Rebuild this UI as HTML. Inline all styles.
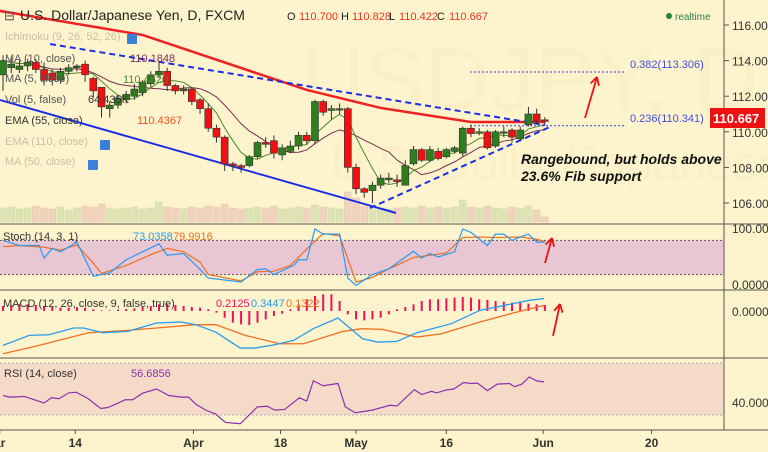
<!DOCTYPE html>
<html><head><meta charset="utf-8"><style>
body{margin:0;background:#fdf3cc;}
svg{display:block;font-family:"Liberation Sans",sans-serif;}
</style></head><body>
<svg id="c" width="768" height="452"></svg>
<script>
const candles=[[113.2,114.3,112.3,114.0],[113.6,114.2,113.3,113.8],[113.5,114,113.3,113.7],[113.7,114.1,113.4,113.9],[113.9,114.1,113.3,113.5],[113.5,113.9,112.6,112.9],[113.3,113.5,112.6,112.9],[112.9,113.6,112.7,113.4],[113.4,113.8,113.2,113.6],[113.6,113.8,113.4,113.7],[113.8,114.0,112.8,113.2],[113.0,113.1,111.9,112.3],[112.5,112.5,110.8,111.4],[111.3,111.7,110.8,111.5],[111.5,112.0,111.3,111.9],[111.8,112.3,111.6,112.1],[112.0,112.7,111.8,112.4],[112.2,112.9,112.0,112.8],[112.7,113.4,112.5,113.2],[113.2,113.9,113.0,113.4],[113.4,113.6,112.3,112.6],[112.6,112.7,112.1,112.3],[112.3,112.6,112.1,112.4],[112.4,112.5,111.5,111.7],[111.8,111.9,111.0,111.3],[111.3,111.6,110.0,110.2],[110.2,110.4,109.4,109.7],[109.7,109.8,107.8,108.2],[108.2,108.3,107.8,108.1],[108.1,108.2,107.7,108.0],[108.1,108.7,108.0,108.6],[108.6,109.5,108.5,109.4],[109.4,109.7,109.1,109.3],[109.5,109.8,108.5,108.8],[108.7,109.3,108.4,109.1],[108.9,109.5,108.8,109.2],[109.2,110.0,109.0,109.8],[109.8,110.0,109.3,109.5],[109.5,111.8,109.3,111.7],[111.7,111.8,110.9,111.1],[111.2,111.5,110.7,111.3],[111.3,111.6,111.0,111.3],[111.3,111.4,107.7,108.0],[108.0,108.2,106.5,106.8],[106.8,106.9,106.3,106.6],[106.7,107.2,106.0,107.0],[107.0,107.6,106.8,107.4],[107.3,107.7,107.1,107.4],[107.3,107.6,106.9,107.2],[107.0,108.4,107.0,108.1],[108.2,109.2,108.1,109.0],[109.0,109.1,108.3,108.4],[108.4,109.2,108.3,109.0],[108.9,109.1,108.4,108.5],[108.6,109.1,108.5,109.0],[108.9,109.2,108.8,109.1],[108.8,110.3,108.6,110.2],[110.2,110.4,109.7,109.9],[110.0,110.2,109.8,110.0],[110.0,110.1,109.0,109.1],[109.2,110.1,109.1,110.0],[110.0,110.3,109.7,110.0],[110.1,110.2,109.4,109.7],[109.6,110.3,109.5,110.1],[110.4,111.4,110.3,111.0],[111.0,111.3,110.4,110.6],[110.67,110.83,110.42,110.667]];
const volume=[14,15,13,14,16,14,13,15,12,14,16,15,18,14,13,14,15,13,14,20,15,14,13,15,14,16,15,18,14,13,14,15,14,16,13,14,15,14,17,15,14,13,30,24,16,15,14,13,14,15,14,16,14,15,14,15,22,15,14,16,14,13,15,14,16,12,5];
const emaIdx=[-1,17,37,46,57,66];
const emaVal=[116.84,115.44,112.35,111.34,110.55,110.55];
const stochKIdx=[0,2,4.4,5,6,7,9,11,13,15,17,19,20,22,24,25,29,31,32,33,35.5,36,37,38,39,41,42,43,45,47,50,51,52,53,55,56,57,59,60,61,62,63,64,65,66];
const stochK=[80,71,71,49,66,60,77,17,23,46,60,74,54,57,29,14,7,29,30,20,37,46,46,100,91,91,14,1,20,30,61,49,57,51,60,100,94,71,91,91,80,86,91,77,77];
const stochDIdx=[0,2,5,7,9,11,12,15,18,20,22,24,25,29,31,33,35,37,39,41,43,45,47,50,52,54,56,58,60,63,65,66];
const stochD=[69,71,68,63,72,40,22,36,55,66,60,42,20,9,25,26,36,65,92,88,7,15,30,50,54,58,85,86,85,86,82,78];
const macdIdx=[0,3.2,5.6,8.6,9.8,12.2,15.2,18.7,21.7,23.5,25.9,28.9,30.7,33.1,35.4,37.8,40.8,43.8,45.6,48,50.4,54.6,58.1,61.1,64.1,65.9];
const macdVal=[-1.03,-0.73,-0.71,-0.51,-0.51,-0.65,-0.61,-0.36,-0.33,-0.41,-0.63,-1.11,-1.11,-1.01,-0.88,-0.53,-0.21,-0.83,-0.93,-0.91,-0.65,-0.38,0.02,0.17,0.32,0.37];
const sigIdx=[0,4.4,10.4,15.2,18.7,23.5,25.9,29.5,33.7,36.6,41.4,43.8,46.2,50.4,53.4,58.1,62.3,65.9];
const sigVal=[-1.28,-1.03,-0.65,-0.58,-0.51,-0.41,-0.41,-0.73,-0.98,-0.98,-0.61,-0.53,-0.55,-0.78,-0.68,-0.33,-0.05,0.17];
const hist=[0.15,0.18,0.2,0.2,0.18,0.15,0.12,0.1,0.1,0.12,0.1,0.05,0.02,0.02,0.04,0.06,0.08,0.12,0.15,0.2,0.2,0.18,0.15,0.12,0.1,0.05,-0.05,-0.2,-0.35,-0.4,-0.42,-0.35,-0.25,-0.15,-0.08,0.05,0.2,0.35,0.45,0.5,0.5,0.3,-0.1,-0.25,-0.28,-0.25,-0.2,-0.1,0.05,0.12,0.2,0.3,0.35,0.35,0.38,0.4,0.42,0.4,0.35,0.33,0.3,0.28,0.25,0.25,0.22,0.2,0.18];
const rsiIdx=[0,0.8,2.6,5,5.9,6.8,8,8.9,10.4,11.9,12.8,14.9,15.8,17,18.7,20.2,21.7,22.6,23.5,24.7,25.9,27.1,28.9,31,32.2,33.1,34.3,36.1,37,37.8,39,40.8,41.7,42.9,45,47.1,48,50.1,51,52.2,52.8,54,54.9,56.1,57,57.8,59,60.2,61.7,62.3,63.2,64.1,65,65.9];
const rsiZ=[505,510,508,528,512,515,497,495,515,545,542,518,518,498,485,505,510,510,532,550,562,588,592,540,538,550,548,512,522,460,475,468,540,558,550,535,537,487,502,492,497,488,485,465,468,467,490,470,468,478,470,448,460,463];
const rsiVal=rsiZ.map(z=>+(40+(525-z)/4).toFixed(2));
const priceTicks=[116,114,112,110,108,106];
const xLabels=["ar","14","Apr","18","May","16","Jun","20"];
const xLabelIdx=[-0.4,8.8,23.2,33.8,43,54,65.8,79];

const NS="http://www.w3.org/2000/svg",svg=document.getElementById('c');
function el(t,a,p){const e=document.createElementNS(NS,t);for(const k in a)e.setAttribute(k,a[k]);(p||svg).appendChild(e);return e;}
const X=i=>3+i*8.21;
const PY=p=>25+(116-p)*17.8;
const SY=v=>286-v*0.57;
const MY=v=>311+(-v)*33.4;
const RY=v=>402-(v-40)*1.3;
function poly(xs,ys,col,w,name,dash){const e=el('polyline',{points:xs.map((x,i)=>x+','+ys[i]).join(' '),fill:'none',stroke:col,'stroke-width':w});if(dash)e.setAttribute('stroke-dasharray',dash);return e;}
function txt(x,y,s,a,name){const e=el('text',Object.assign({x:x,y:y},a));e.textContent=s;return e;}

let r=el('rect',{x:0,y:SY(80),width:724,height:SY(20)-SY(80),fill:'#e9c6d3'});
r=el('rect',{x:0,y:RY(70),width:724,height:RY(30)-RY(70),fill:'#f6dac8'});
[80,20].forEach(v=>el('line',{x1:0,x2:724,y1:SY(v),y2:SY(v),stroke:'#555','stroke-dasharray':'2,2'}));
[70,30].forEach(v=>el('line',{x1:0,x2:724,y1:RY(v),y2:RY(v),stroke:'#aab','stroke-dasharray':'2,2'}));
txt(300,110,'USDJPY, D',{'font-size':90,fill:'#faefc7'},'watermark-symbol');
txt(330,180,'U.S. Dollar/Japanese Yen',{'font-size':48,fill:'#faefc7'},'watermark-name');

volume.forEach((v,i)=>{const c=candles[i];const b=el('rect',{x:X(i)-3.5,y:222-v,width:7,height:v,fill:c[3]>=c[0]?'#dde3b4':'#efd3bd',stroke:c[3]>=c[0]?'#cfd8a6':'#e8c6ac','stroke-width':0.5});});

poly(emaIdx.map(X),emaVal.map(PY),'#ee2222',2.5,'ema-55-line');
const closes=candles.map(c=>c[3]);
function sma(n){return closes.map((_,i)=>{const s=closes.slice(Math.max(0,i-n+1),i+1);return s.reduce((a,b)=>a+b,0)/s.length;});}
poly(closes.map((_,i)=>X(i)),sma(10).map(PY),'#7a3050',1,'ma-10-line');
poly(closes.map((_,i)=>X(i)),sma(5).map(PY),'#4a8a2a',1,'ma-5-line');
let l=el('line',{x1:50,y1:44,x2:545,y2:125,stroke:'#1a2ee8','stroke-width':2,'stroke-dasharray':'6,4'});
l=el('line',{x1:0,y1:100,x2:396,y2:213,stroke:'#1a2ee8','stroke-width':2});
l=el('line',{x1:370,y1:208,x2:552,y2:126,stroke:'#1a2ee8','stroke-width':2,'stroke-dasharray':'6,4'});
l=el('line',{x1:470,y1:72,x2:625,y2:72,stroke:'#3040e0','stroke-width':1,'stroke-dasharray':'2,2'});
l=el('line',{x1:470,y1:PY(110.341),x2:625,y2:PY(110.341),stroke:'#3040e0','stroke-width':1,'stroke-dasharray':'2,2'});
txt(630,68,'0.382(113.306)',{'font-size':11,fill:'#4050e0'},'fib-382-label');
txt(630,122,'0.236(110.341)',{'font-size':11,fill:'#4050e0'},'fib-236-label');

candles.forEach((c,i)=>{const up=c[3]>=c[0];const x=X(i);
const w=el('line',{x1:x,x2:x,y1:PY(c[1]),y2:PY(c[2]),stroke:'#333','stroke-width':1});
const t=Math.min(PY(c[0]),PY(c[3]));const h=Math.max(1.5,Math.abs(PY(c[0])-PY(c[3])));
const b=el('rect',{x:x-3.5,y:t,width:7,height:h,fill:up?'#2e7d1e':'#e11',stroke:'#333','stroke-width':0.6});});

txt(521,164,'Rangebound, but holds above',{'font-size':14,'font-weight':'bold','font-style':'italic',fill:'#111'},'annotation-line1');
txt(521,181,'23.6% Fib support',{'font-size':14,'font-weight':'bold','font-style':'italic',fill:'#111'},'annotation-line2');
function arrow(x1,y1,x2,y2,name){const g=el('g',{stroke:'#ee1111','stroke-width':1.8,fill:'none'});
el('line',{x1,y1,x2,y2},g);const a=Math.atan2(y2-y1,x2-x1);[0.5,-0.5].forEach(d=>el('line',{x1:x2,y1:y2,x2:x2-9*Math.cos(a+d),y2:y2-9*Math.sin(a+d)},g));}
arrow(585,118,597,77,'target-arrow');arrow(545,263,552,238,'stoch-arrow');arrow(553,336,560,304,'macd-arrow');

poly(stochDIdx.map(X),stochD.map(SY),'#f07020',1.2,'stoch-d-line');
poly(stochKIdx.map(X),stochK.map(SY),'#2a9af0',1.2,'stoch-k-line');
hist.forEach((v,i)=>{const b=el('line',{x1:X(i),x2:X(i),y1:MY(0),y2:MY(v),stroke:'#ee1060','stroke-width':2});});
poly(sigIdx.map(X),sigVal.map(MY),'#f07020',1.3,'macd-signal-line');
poly(macdIdx.map(X),macdVal.map(MY),'#2a9af0',1.3,'macd-line');
poly(rsiIdx.map(X),rsiVal.map(RY),'#8a30b0',1.2,'rsi-line');

[224,290,358,430].forEach(y=>el('line',{x1:0,x2:768,y1:y,y2:y,stroke:'#555','stroke-width':1}));
el('line',{x1:724,x2:724,y1:0,y2:430,stroke:'#555'});
priceTicks.forEach(p=>{el('line',{x1:724,x2:729,y1:PY(p),y2:PY(p),stroke:'#555'});txt(732,PY(p)+5,p.toFixed(3),{'font-size':12,fill:'#333'},'price-tick');});
r=el('rect',{x:710,y:108,width:55,height:20,fill:'#ee1111'});
txt(713,123,'110.667',{'font-size':13,'font-weight':'bold',fill:'#fff'},'last-price-value');
txt(732,233,'100.0000',{'font-size':12,fill:'#333'},'stoch-tick-100');
txt(732,289,'0.0000',{'font-size':12,fill:'#333'},'stoch-tick-0');
txt(732,316,'0.0000',{'font-size':12,fill:'#333'},'macd-tick-0');
txt(732,407,'40.0000',{'font-size':12,fill:'#333'},'rsi-tick-40');
xLabels.forEach((s,i)=>{const x=X(xLabelIdx[i]);el('line',{x1:x,x2:x,y1:430,y2:434,stroke:'#555'});txt(x,447,s,{'font-size':12,'font-weight':'bold',fill:'#333','text-anchor':'middle'},'x-tick-label');});

txt(4,20,'⊟',{'font-size':13,fill:'#555'},'collapse-icon');
txt(20,20,'U.S. Dollar/Japanese Yen, D, FXCM',{'font-size':14,fill:'#222'},'chart-title');
txt(287,20,'O',{'font-size':11,fill:'#222'},'open-label');txt(299,20,'110.700',{'font-size':11,fill:'#ee3322'},'open-value');
txt(341,20,'H',{'font-size':11,fill:'#222'},'high-label');txt(352,20,'110.828',{'font-size':11,fill:'#ee3322'},'high-value');
txt(389,20,'L',{'font-size':11,fill:'#222'},'low-label');txt(399,20,'110.422',{'font-size':11,fill:'#ee3322'},'low-value');
txt(437,20,'C',{'font-size':11,fill:'#222'},'close-label');txt(449,20,'110.667',{'font-size':11,fill:'#ee3322'},'close-value');
el('circle',{cx:669,cy:16,r:3,fill:'#2e7d4e'});txt(675,20,'realtime',{'font-size':10,fill:'#2e7d4e'},'realtime-status');
const leg=[['Ichimoku (9, 26, 52, 26)',40,'#c8c0a8'],['MA (10, close)',62,'#555'],['MA (5, close)',82,'#555'],['Vol (5, false)',103,'#555'],['EMA (55, close)',124,'#333'],['EMA (110, close)',145,'#c8c0a8'],['MA (50, close)',165,'#c8c0a8']];
leg.forEach(l=>txt(5,l[1],l[0],{'font-size':11,fill:l[2]},'indicator-legend'));
txt(130,62,'110.1848',{'font-size':11,fill:'#7a3050'},'ma10-value');
txt(123,83,'110.4620',{'font-size':11,fill:'#4a8a2a'},'ma5-value');
txt(88,103,'64.435K',{'font-size':11,fill:'#333'},'volume-value');
txt(137,124,'110.4367',{'font-size':11,fill:'#f05020'},'ema55-value');
[[127,34],[100,140],[88,160]].forEach(p=>{const b=el('rect',{x:p[0],y:p[1],width:10,height:10,fill:'#3a80d8',rx:1});});
txt(3,240,'Stoch (14, 3, 1)',{'font-size':11,fill:'#333'},'stoch-legend');
txt(133,240,'73.0358',{'font-size':11,fill:'#2a9af0'},'stoch-k-value');txt(173,240,'79.9916',{'font-size':11,fill:'#f07020'},'stoch-d-value');
txt(3,307,'MACD (12, 26, close, 9, false, true)',{'font-size':11,fill:'#333'},'macd-legend');
txt(216,307,'0.2125',{'font-size':11,fill:'#ee1060'},'macd-hist-value');txt(251,307,'0.3447',{'font-size':11,fill:'#2a9af0'},'macd-value');txt(286,307,'0.1322',{'font-size':11,fill:'#f07020'},'macd-signal-value');
txt(4,377,'RSI (14, close)',{'font-size':11,fill:'#333'},'rsi-legend');
txt(131,377,'56.6856',{'font-size':11,fill:'#8a30b0'},'rsi-value');
</script></body></html>
